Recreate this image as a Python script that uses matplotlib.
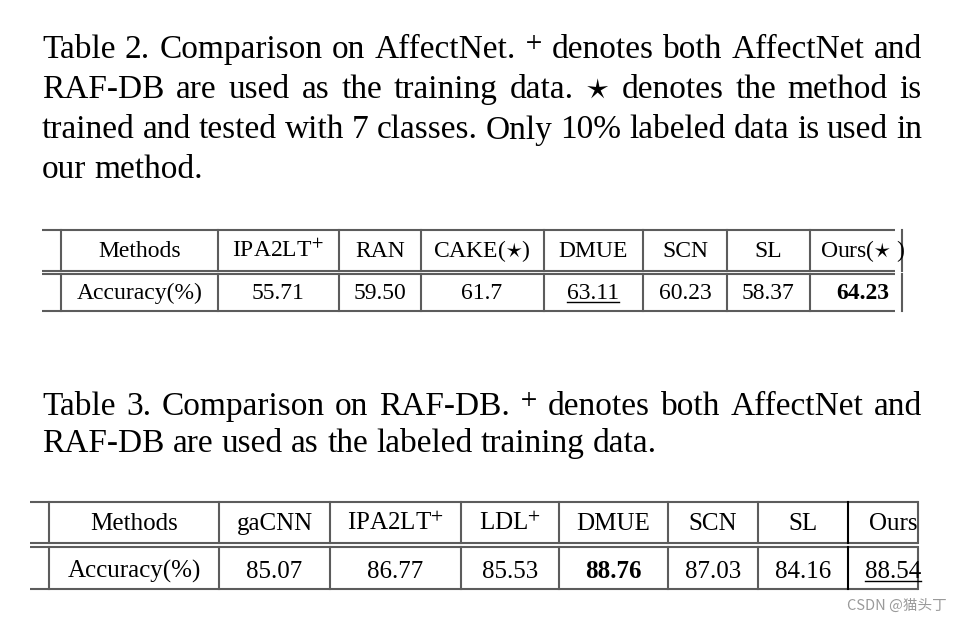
import matplotlib.pyplot as plt
import numpy as np

plt.rcParams['font.family'] = ['Liberation Serif', 'DejaVu Serif']
plt.rcParams['mathtext.fontset'] = 'stix'

# Table 2 (AffectNet)
t2_methods = ['IPA2LT$^{+}$', 'RAN', 'CAKE($\\star$)', 'DMUE', 'SCN', 'SL', 'Ours($\\star$ )']
t2_labels = ['55.71', '59.50', '61.7', '63.11', '60.23', '58.37', '64.23']
t2_acc = [55.71, 59.50, 61.7, 63.11, 60.23, 58.37, 64.23]

# Table 3 (RAF-DB)
t3_methods = ['gaCNN', 'IPA2LT$^{+}$', 'LDL$^{+}$', 'DMUE', 'SCN', 'SL', 'Ours']
t3_labels = ['85.07', '86.77', '85.53', '88.76', '87.03', '84.16', '88.54']
t3_acc = [85.07, 86.77, 85.53, 88.76, 87.03, 84.16, 88.54]

cap2 = ['Table 2. Comparison on AffectNet. $^{+}$ denotes both AffectNet and',
        'RAF-DB are used as the training data.  $\\star$ denotes the method is',
        'trained and tested with 7 classes. Only 10% labeled data is used in',
        'our method.']
cap3 = ['Table 3. Comparison on RAF-DB. $^{+}$ denotes both AffectNet and',
        'RAF-DB are used as the labeled training data.']

fig = plt.figure(figsize=(9.62, 6.22), dpi=100)
ax = fig.add_axes([0, 0, 1, 1])
ax.set_xlim(0, 962)
ax.set_ylim(622, 0)
ax.axis('off')
renderer = fig.canvas.get_renderer()


def caption(lines, x0, x1, baselines, fs):
    # justify every line except the last one
    for i, (line, yb) in enumerate(zip(lines, baselines)):
        words = line.split()
        texts = [ax.text(0, yb, w, fontsize=fs, va='baseline', ha='left') for w in words]
        widths = [t.get_window_extent(renderer).width for t in texts]
        if i < len(lines) - 1 and len(words) > 1:
            gap = (x1 - x0 - sum(widths)) / (len(words) - 1)
        else:
            gap = fs * 100 / 72 * 0.25
        x = x0
        for t, w in zip(texts, widths):
            t.set_x(x)
            x += w + gap


def table(edges, x0, x1, ys, bases, names, labels, vals, fs, centers, dark=None):
    top, d1, d2, bot = ys
    lc = '#5c5c5c'
    for y in ys:
        ax.plot([x0, x1], [y, y], color=lc, lw=1.5, solid_capstyle='butt')
    for j, e in enumerate(edges):
        c = 'black' if j == dark else lc
        ax.plot([e, e], [top, d1], color=c, lw=1.5)
        ax.plot([e, e], [d2, bot], color=c, lw=1.5)
    order = np.argsort(vals)[::-1]
    best, second = order[0], order[1]
    ax.text(centers[0], bases[0], 'Methods', fontsize=fs, ha='center', va='baseline')
    ax.text(centers[0], bases[1], 'Accuracy(%)', fontsize=fs, ha='center', va='baseline')
    for k, (n, lab) in enumerate(zip(names, labels)):
        cx = centers[k + 1]
        ax.text(cx, bases[0], n, fontsize=fs, ha='center', va='baseline')
        t = ax.text(cx, bases[1], lab, fontsize=fs, ha='center', va='baseline',
                    fontweight='bold' if k == best else 'normal')
        if k == second:
            bb = t.get_window_extent(renderer)
            ax.plot([bb.x0, bb.x1], [bases[1] + 3, bases[1] + 3], color='black', lw=1.0)


caption(cap2, 42, 922, [58, 98, 138.5, 178.5], 24)
caption(cap3, 42, 922, [415, 452], 24)

e2 = [61, 218, 339, 421, 544, 643, 727, 810, 902]
c2 = [140, 278, 380, 482, 593, 685, 768, 863]
table(e2, 42, 895, [230, 270.7, 273.5, 310.7], [257, 299], t2_methods, t2_labels,
      t2_acc, 17, c2)

e3 = [49, 219, 330, 461, 559, 668, 758, 848, 918]
c3 = [134, 274.5, 395, 510, 613, 713, 803, 893]
table(e3, 30, 918, [501.7, 542.7, 547.3, 589.3], [530, 578], t3_methods, t3_labels,
      t3_acc, 18, c3, dark=7)

ax.text(847, 606, 'CSDN @猫头丁', fontsize=10.5, color='#9a9a9a', va='center', ha='left',
        family=['Noto Sans CJK SC', 'DejaVu Sans'])

fig.savefig('out.png', dpi=100)
